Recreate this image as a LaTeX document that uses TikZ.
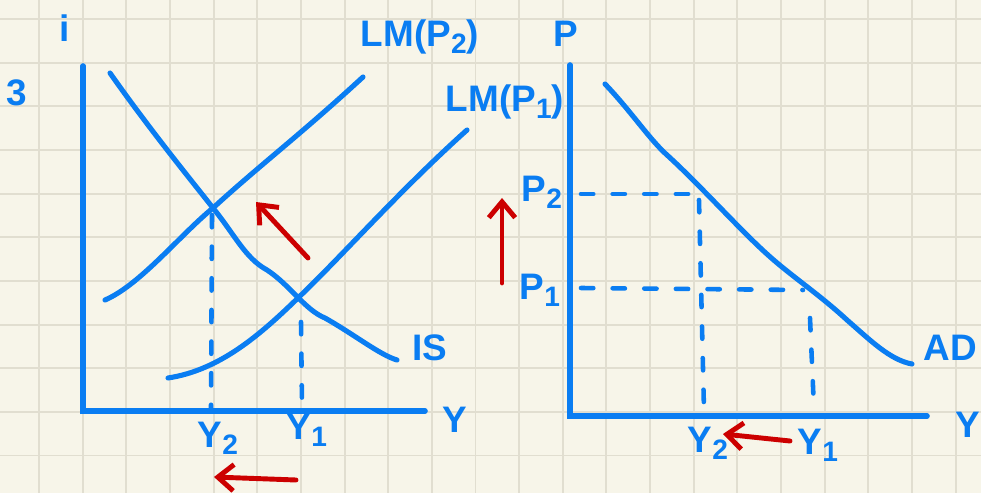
\documentclass[tikz,border=0pt]{standalone}
\usepackage{fontspec}
\setmainfont{Liberation Sans}
\usetikzlibrary{arrows.meta}
\definecolor{paper}{HTML}{F7F5E9}
\definecolor{gridc}{HTML}{E1DED0}
\definecolor{pen}{HTML}{0A7DF2}
\definecolor{redpen}{HTML}{CC0000}
\newcommand{\lowsub}[1]{\raisebox{-0.35ex}{\fontsize{16}{16}\selectfont #1}}
\tikzset{
  curve/.style={draw=pen, line width=2.9pt, line cap=round, line join=round},
  axis/.style={draw=pen, line width=3.2pt, line cap=round},
  guide/.style={draw=pen, line width=2.6pt, line cap=round, dash pattern=on 7pt off 11pt},
  move/.style={draw=redpen, line width=2.8pt, line cap=round, -{Straight Barb[length=9pt,width=15pt,line width=2.8pt]}},
  lab/.style={text=pen, font=\bfseries\fontsize{21}{23}\selectfont, inner sep=0pt}
}
\begin{document}
\begin{tikzpicture}[x=0.02cm,y=-0.02cm]
\useasboundingbox (0,0) rectangle (981,493);
\fill[paper] (0,0) rectangle (981,493);
\foreach \k in {1,...,22} {\draw[gridc, line width=1.1pt] ({-4.65+43.65*\k},0) -- ({-4.65+43.65*\k},493);}
\foreach \k in {0,...,10} {\draw[gridc, line width=1.1pt] (0,{19+43.65*\k}) -- (981,{19+43.65*\k});}

% ---------- left panel: IS-LM ----------
\coordinate (oL) at (83,411);
\coordinate (iTop) at (83,66);
\coordinate (yEndL) at (425,411);
\draw[axis] (iTop) -- (oL) -- (yEndL);

% IS
\draw[curve] (110,73) .. controls (150,130) and (195,185) .. (213,208)
  .. controls (235,235) and (245,258) .. (267,270)
  .. controls (290,285) and (305,310) .. (325,318)
  .. controls (355,335) and (380,355) .. (397,360);
% LM(P2)
\draw[curve] (105,300) .. controls (140,285) and (180,235) .. (213,208)
  .. controls (260,165) and (300,135) .. (363,77);
% LM(P1)
\draw[curve] (168,378) .. controls (220,370) and (260,335) .. (299,297)
  .. controls (340,258) and (400,190) .. (467,130);

\coordinate (E2) at (212,215);
\coordinate (E2b) at (211,408);
\coordinate (E1) at (301,322);
\coordinate (E1b) at (302,405);
\draw[guide] (E2) -- (E2b);
\draw[guide] (E1) -- (E1b);

\node[lab] (li) at (65,28) {i};
\node[lab] (l3) at (17,93) {3};
\node[lab] (lY2L) at (218,438) {Y\lowsub{2}};
\node[lab] (lY1L) at (307,430) {Y\lowsub{1}};
\node[lab] (lYL) at (455,420) {Y};
\node[lab] (lIS) at (430,348) {IS};
\node[lab] (lLM2) at (420,37) {LM(P\lowsub{2})};
\node[lab] (lLM1) at (505,102) {LM(P\lowsub{1})};

\coordinate (ra1) at (308,258);
\coordinate (ra1e) at (256,202);
\draw[move] (ra1) -- (ra1e);
\coordinate (ra2) at (296,480);
\coordinate (ra2e) at (214,477);
\draw[move] (ra2) -- (ra2e);

% ---------- right panel: AD ----------
\coordinate (oR) at (570,416);
\coordinate (pTop) at (570,65);
\coordinate (yEndR) at (927,416);
\draw[axis] (pTop) -- (oR) -- (yEndR);

\draw[curve] (605,84) .. controls (630,110) and (650,140) .. (667,155)
  .. controls (700,185) and (740,230) .. (768,255)
  .. controls (790,275) and (820,295) .. (847,320)
  .. controls (870,340) and (890,360) .. (912,364);

\coordinate (P2a) at (581,194);
\coordinate (P2b) at (697,194);
\coordinate (P1a) at (581,288);
\coordinate (P1b) at (803,290);
\coordinate (Y2a) at (699,200);
\coordinate (Y2b) at (704,410);
\coordinate (Y1a) at (810,318);
\coordinate (Y1b) at (814,409);
\draw[guide] (P2a) -- (P2b);
\draw[guide] (P1a) -- (P1b);
\draw[guide] (Y2a) -- (Y2b);
\draw[guide] (Y1a) -- (Y1b);

\node[lab] (lP) at (566,34) {P};
\node[lab] (lP2) at (542,192) {P\lowsub{2}};
\node[lab] (lP1) at (540,290) {P\lowsub{1}};
\node[lab] (lY2R) at (708,443) {Y\lowsub{2}};
\node[lab] (lY1R) at (818,445) {Y\lowsub{1}};
\node[lab] (lYR) at (968,425) {Y};
\node[lab] (lAD) at (950,348) {AD};

\coordinate (ra3) at (502,283);
\coordinate (ra3e) at (502,198);
\draw[move] (ra3) -- (ra3e);
\coordinate (ra4) at (790,441);
\coordinate (ra4e) at (723,434);
\draw[move] (ra4) -- (ra4e);
\end{tikzpicture}
\end{document}
